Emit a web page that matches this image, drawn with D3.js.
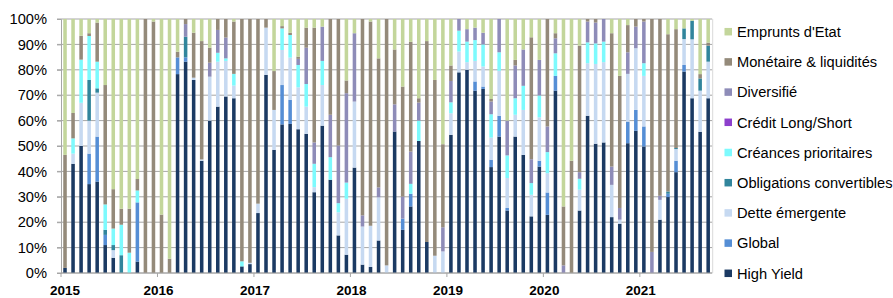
<!DOCTYPE html>
<html><head><meta charset="utf-8">
<script src="https://cdn.jsdelivr.net/npm/d3@7"></script>
<style>
html,body{margin:0;padding:0;background:#fff;}
svg{display:block;font-family:"Liberation Sans",Arial,sans-serif;}
</style></head>
<body><svg id="c" width="893" height="298"></svg>
<script>
// ---- data ----
const years = ["2015","2016","2017","2018","2019","2020","2021"];
const seriesNames = ["High Yield","Global","Dette émergente","Obligations convertibles","Créances prioritaires","Crédit Long/Short","Diversifié","Monétaire & liquidités","Emprunts d'Etat"];
const seriesColors = ["#1b3a63","#558ed5","#c6d9f1","#31859c","#7dfafd","#8d3fcc","#8e8cb8","#948a7a","#c3d69b"];

const highYield = [2,43,50,35,36,11,6,0,0,4.5,0,0, 0,0,78.3,83.2,76,44.2,60,65.5,69.5,68.8,2.6,3.5,
 23.6,78,48.5,58.5,58.7,56.6,54.8,31.8,58,36.7,14.8,7.2, 41.5,3.3,2.4,12.8,0,55.7,17,26.2,52,12.2,0,0,
 54.4,79,80,71.8,72.5,41.7,53.7,24.6,53.7,46.5,22.3,41.9, 22.9,71.8,0,0,24.6,61.9,50.9,51.4,22,19.4,51.1,56,
 49.8,0,21,29.9,39.7,79.3,68.8,55.6,68.8];
const global = [0,0,0,12,17.7,4,0,0,0,23.3,0,0, 0,0,6.6,1.7,0,0,0,0,0,0,0,0,
 0,0,0,15.5,9.5,0,0,0,0,0,0,0, 0,0,0,0,0,0,4.4,5,0,0,0,0,
 0,0,0,3.6,0.9,2.9,8.2,1,0,0,0,2.3, 8.8,5.8,0,0,0,0,0,0,0,0,8.5,8.2,
 7.9,0,0,1.3,4.5,2.6,0,0,0];
const detteEmergente = [0,4,17,13,17.3,0,3,0,0,0,0,0, 0,0,0,0,0.9,0.5,17.3,17.7,14,5,0,0.5,
 3.7,18.6,15.7,13.8,16.6,16.5,10.7,2,16,0,9.1,22, 26,15,16.2,17,3,0,0,0,0,0,6.8,8.5,
 8.5,8.2,3,8.1,7.9,8.7,17.7,11.8,8.6,17.7,8.5,17.1, 7.6,0,0,0,8.2,20.7,31.4,31.6,12.7,1.6,18.8,24.3,
 19.9,0,7.8,0,4.6,10.2,23.2,16.2,14.4];
const obligConvertibles = [0,0,0,16,1.7,2,2,7,0,0,0,0, 0,0,0,8.1,0,0,0,0,0,0,0,0,
 0,0,0,0,0,0,0,0,0,0,0,0, 0,0,0,0,0,0,0,0,0,0,0,0,
 0,0,0,0,0,0,0,0,0,0,0,0, 0,0,0,0,0,0,0,0,0,0,0,0,
 0,0,0,0.9,0.4,4.2,7.3,4.8,6.3];
const creancesPrio = [0,6,17,17.3,10.5,10,6.5,12,8,4.7,0,0, 0,0,0,0,0,0,0,3.5,1,4.6,2,0,
 0,0,0,8.5,8.9,8.8,8.9,9.2,9.5,8.9,3.6,6.4, 0,0,0,0,0,0,0,3.9,8,0,0,0,
 4.3,8.2,8.1,8.2,8.7,9.2,7.3,8.9,6.5,9.5,4.6,8.6, 8.3,8.9,0,0,4.3,8.2,8.1,8.1,0,0,0,0,
 5,0,0,0,0,0,0,0,0];
const creditLongShort = [0,0,0,0,0,0,0,0,0,0,0,0, 0,0,0,0,0,0,0,0,0,0,0,0,
 0,0,0,0,0,0,0,0,0,0,0,0, 0,0,0,0,0,0,0,0,0,0,0,0,
 0,0,0,0,0,0,0,0,0,0,0,0, 0,0,0,0,0,0,0,0,0,0,0,0,
 0,0,0,0,0,0,0,0,0];
const diversifie = [0,0,0,0,0,0,0,0,0,0,0,0, 0,0,0,5,0,0,5.5,9,8.2,0,0,0,
 0,0,0,0,0,2.4,14.3,8.4,13.5,16.7,22.7,35.2, 26.9,4.4,0,3.9,0,10.7,8.7,12.7,7.1,0,0,9.5,
 8.4,4.6,4.9,4.9,4.6,5,13.1,13.7,12.9,14.3,9.4,14, 10.1,5.9,3,0,2.6,8.2,8.2,8.9,7.2,4.6,8.5,8.5,
 16.4,8.3,1.6,0,0,0,0,0,0];
const monetaire = [44.5,10,9.4,1.1,15.4,47,15.5,6.3,17.3,4.5,100,99, 23,5.6,2.2,2,17.7,46.6,5.9,4.3,7.3,20.6,95.4,96,
 72.7,3.4,15.3,0.9,0.9,0.9,7.9,45.2,0,37.7,49.8,5, 0,77.3,80.4,50.8,97,21.6,43.3,43.2,1.7,79.1,69.2,32.7,
 6.1,0,0,0,0,1,0,0,2.2,0,48,0, 42.3,2,23.2,44.2,49.8,1,1.4,0,52.5,52,10.7,3,
 1,91.7,69.6,61.9,46.8,0,0,1.7,1.2];
const empruntsEtat = [53.5,37,6.6,5.6,1.4,26,67,74.7,74.7,63,0,1, 77,94.4,12.9,0,5.4,8.7,11.3,0,0,1,0,0,
 0,0,20.5,2.8,5.4,14.8,3.4,3.4,3,0,0,24.2, 5.6,0,1,15.5,0,12,26.6,9,31.2,8.7,24,49.3,
 18.3,0,4,3.4,5.4,31.5,0,40,16.1,12,7.2,16.1, 0,5.6,73.8,55.8,10.5,0,0,0,5.6,22.4,2.4,0,
 0,0,0,6,4,3.7,0.7,21.7,9.3];
const yTicks = [0,0.1,0.2,0.3,0.4,0.5,0.6,0.7,0.8,0.9,1];

const seriesValues = [highYield,global,detteEmergente,obligConvertibles,creancesPrio,creditLongShort,diversifie,monetaire,empruntsEtat];
const months = d3.timeMonth.range(new Date(2015,0,1), new Date(2021,9,1));
const fmtM = d3.timeFormat("%Y-%m");
const categories = months.map(fmtM);

const rows = categories.map((c,i)=>{
  const r = {cat:c};
  seriesNames.forEach((s,k)=> r[s] = seriesValues[k][i]);
  return r;
});

// ---- layout ----
const svg = d3.select("#c");
const L = 61, R = 712.2, T = 19, B = 273;
const x = d3.scaleBand().domain(categories).range([L,R]).paddingInner(0.56).paddingOuter(0.28);
const y = d3.scaleLinear().domain([0,1]).range([B,T]);
const color = d3.scaleOrdinal().domain(seriesNames).range(seriesColors);

// gridlines
svg.append("g").selectAll("line").data(yTicks).join("line")
  .attr("x1",L-4).attr("x2",R).attr("y1",d=>y(d)).attr("y2",d=>y(d))
  .attr("stroke","#a6a6a6").attr("stroke-width",1);
svg.append("line").attr("x1",R+0.5).attr("x2",R+0.5).attr("y1",T).attr("y2",B)
  .attr("stroke","#d9d9d9");

// bars
const stacked = d3.stack().keys(seriesNames).offset(d3.stackOffsetExpand)(rows);
svg.append("g").selectAll("g").data(stacked).join("g")
  .attr("fill",d=>color(d.key))
  .selectAll("rect").data(d=>d.filter(p=>p[1]-p[0]>0)).join("rect")
  .attr("x",d=>x(d.data.cat)).attr("width",x.bandwidth())
  .attr("y",d=>y(d[1])).attr("height",d=>y(d[0])-y(d[1]));

// y axis
const yAxis = svg.append("g").attr("transform",`translate(${L},0)`)
  .call(d3.axisLeft(y).tickValues(yTicks).tickFormat(d3.format(".0%")).tickSize(4).tickPadding(10));
yAxis.select(".domain").attr("stroke","#a6a6a6");
yAxis.selectAll(".tick line").attr("stroke","#a6a6a6");
yAxis.selectAll("text").attr("font-size","14.67px").attr("fill","#000")
  .attr("font-family","'Liberation Sans',Arial,sans-serif");

// x axis (year ticks at start of January slots)
const slotStart = c => x(c) - (x.step()-x.bandwidth())/2;
svg.append("line").attr("x1",L).attr("x2",R).attr("y1",B).attr("y2",B).attr("stroke","#a6a6a6");
const xt = svg.append("g").selectAll("g").data(years).join("g")
  .attr("transform",yr=>`translate(${slotStart(yr+"-01")},0)`);
xt.append("line").attr("y1",B).attr("y2",B+4).attr("stroke","#a6a6a6");
xt.append("text").attr("y",295).attr("x",(d,i)=>i===0?4:1).attr("text-anchor","middle")
  .attr("font-size","13.5px").attr("font-weight","bold").text(d=>d);

// legend
const legendItems = seriesNames.slice().reverse();
const lg = svg.append("g").selectAll("g").data(legendItems).join("g")
  .attr("transform",(d,i)=>`translate(724.5,${31.7 + i*30.2})`);
lg.append("rect").attr("x",0).attr("y",-3.75).attr("width",7.5).attr("height",7.5).attr("fill",d=>color(d));
lg.append("text").attr("x",12.5).attr("y",5.2).attr("font-size","14.67px").attr("fill","#000").text(d=>d);
</script></body></html>
